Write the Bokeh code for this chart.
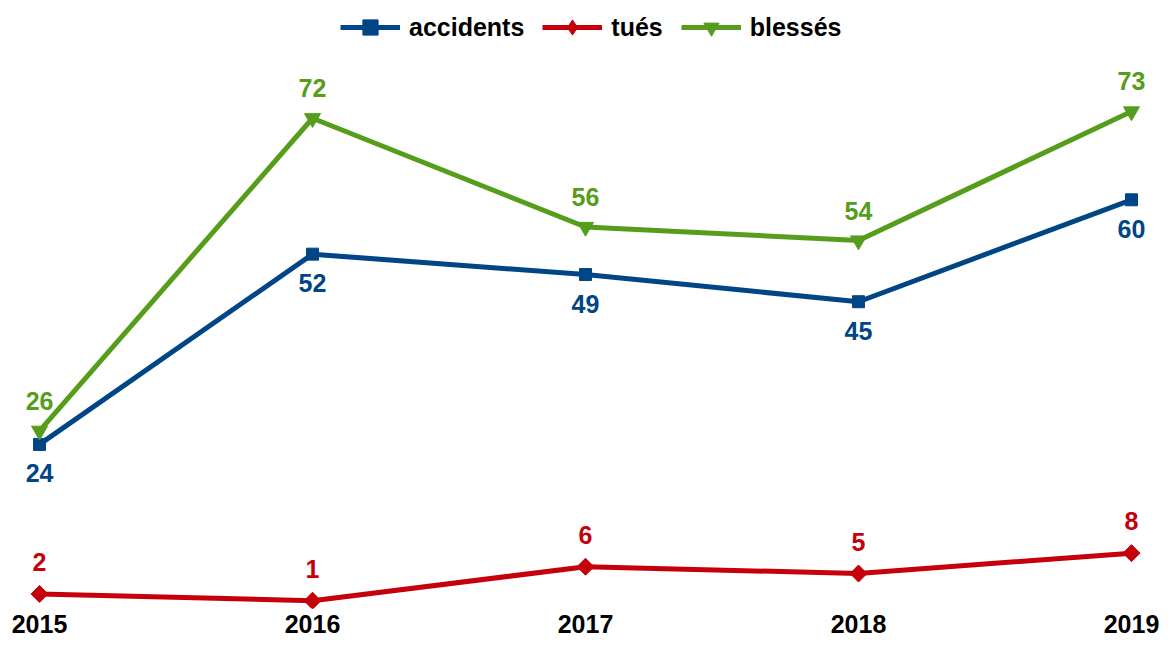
from bokeh.plotting import figure
from bokeh.models import Range1d, Legend, LegendItem, FixedTicker, ColumnDataSource
from bokeh.core.properties import value
from bokeh.embed import file_html
from bokeh.resources import INLINE
import math

years = [2015, 2016, 2017, 2018, 2019]
year_labels = ["2015", "2016", "2017", "2018", "2019"]
accidents = [24, 52, 49, 45, 60]
tues = [2, 1, 6, 5, 8]
blesses = [26, 72, 56, 54, 73]

BLUE = "#004586"
RED = "#C5000B"
GREEN = "#579D1C"
FONT = "Liberation Sans"

p = figure(width=1159, height=637, output_backend="svg", toolbar_location=None,
           x_range=Range1d(2014.857, 2019.1026), y_range=Range1d(-0.147, 89.33),
           min_border_left=0, min_border_right=0, min_border_top=0, min_border_bottom=29,
           y_axis_location=None)
p.outline_line_color = None
p.grid.visible = False
p.background_fill_color = "white"
p.border_fill_color = "white"

xa = p.xaxis[0]
xa.ticker = FixedTicker(ticks=years)
xa.major_label_overrides = {y: l for y, l in zip(years, year_labels)}
xa.axis_line_color = None
xa.major_tick_line_color = None
xa.minor_tick_line_color = None
xa.major_label_standoff = 0
xa.major_label_text_font = FONT
xa.major_label_text_font_style = "bold"
xa.major_label_text_font_size = "25px"
xa.major_label_text_color = "black"

series = [
    ("accidents", accidents, BLUE, "square", 12, 0, 29),
    ("tués", tues, RED, "square", 12, math.pi / 4, -32),
    ("blessés", blesses, GREEN, "inverted_triangle", 16, 0, -30),
]

items = []
for name, vals, col, marker, size, ang, off in series:
    src = ColumnDataSource(dict(x=years, y=vals, t=[str(v) for v in vals]))
    ln = p.line("x", "y", source=src, line_color=col, line_width=5)
    sc = p.scatter("x", "y", source=src, marker=marker, size=size, angle=ang,
                   fill_color=col, line_color=col)
    leg_r = sc
    if ang:
        # diamond drawn inside the rotated square; used for the legend symbol
        leg_r = p.scatter("x", "y", source=src, marker="diamond", size=16,
                          fill_color=col, line_color=col)
    p.text("x", "y", text="t", source=src, y_offset=off, text_align="center",
           text_baseline="middle", text_color=col, text_font=value(FONT),
           text_font_style="bold", text_font_size="25px")
    items.append(LegendItem(label=name, renderers=[ln, leg_r]))

legend = Legend(items=items, orientation="horizontal", location=(340, 562),
                border_line_color=None, background_fill_alpha=0,
                glyph_width=60, glyph_height=38, label_standoff=9, spacing=18,
                padding=0, margin=0,
                label_text_font=FONT, label_text_font_style="bold",
                label_text_font_size="25px", label_text_color="black")
p.add_layout(legend)

open("out.html", "w").write(file_html(p, INLINE))
